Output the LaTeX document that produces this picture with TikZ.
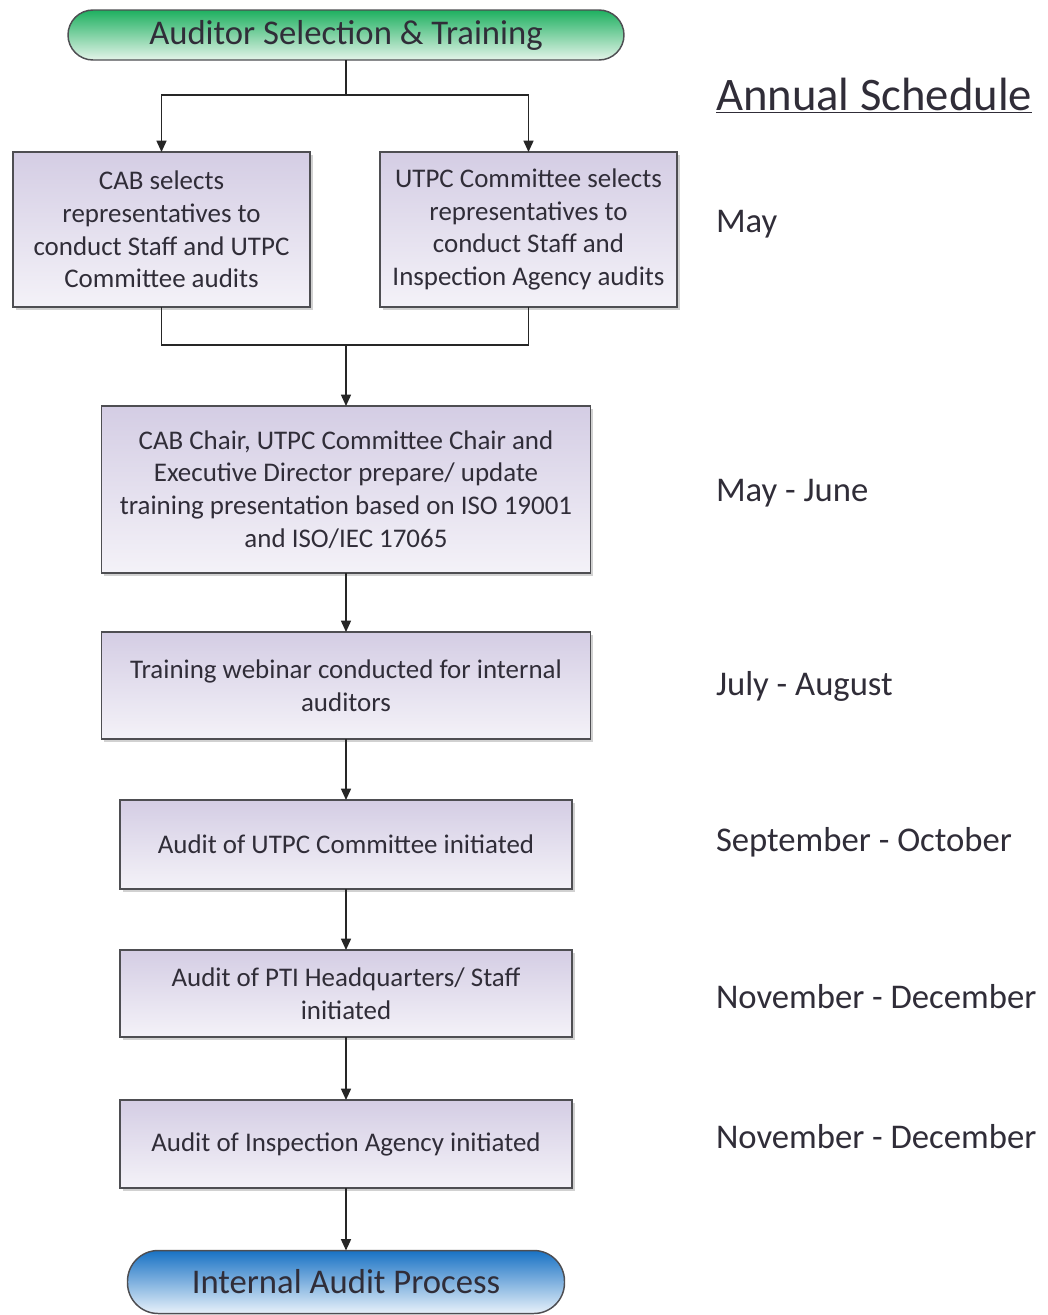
\documentclass[tikz,border=0pt]{standalone}
\usepackage{fontspec}
\setmainfont{Carlito}
\usetikzlibrary{arrows.meta,shadows}
\definecolor{txt}{RGB}{48,45,56}
\definecolor{edge}{RGB}{78,78,82}
\definecolor{boxtop}{RGB}{212,205,228}
\definecolor{boxbot}{RGB}{244,242,248}
\definecolor{grtop}{RGB}{30,176,96}
\definecolor{grbot}{RGB}{228,244,233}
\definecolor{bltop}{RGB}{24,114,196}
\definecolor{blbot}{RGB}{232,241,250}
\begin{document}
\begin{tikzpicture}[x=0.75pt,y=-0.75pt,
  every node/.style={text=txt,inner sep=0pt,outer sep=0pt},
  stepbox/.style={draw=edge,line width=1.1pt,top color=boxtop,bottom color=boxbot,
    align=center,font=\fontsize{20.2}{24.5}\selectfont,
    drop shadow={shadow xshift=2pt,shadow yshift=-2pt,fill=black,opacity=0.18}},
  terminal/.style={draw=edge,line width=1.1pt,rounded corners=#1,
    font=\fontsize{26}{30}\selectfont},
  sched/.style={anchor=base west,font=\fontsize{26}{30}\selectfont},
  link/.style={draw=black!85,line width=1.1pt},
  arr/.style={link,-{Triangle[length=8.5pt,width=7.5pt]}}]
\useasboundingbox (0,0) rectangle (1048,1315);

% start and end terminals
\node[terminal=18.75pt,top color=grtop,bottom color=grbot,
  minimum width=417pt,minimum height=37.5pt] (start) at (346,35)
  {Auditor Selection \& Training};
\node[terminal=23pt,top color=bltop,bottom color=blbot,
  minimum width=327.75pt,minimum height=47.25pt] (finish) at (346,1282)
  {Internal Audit Process};

% process steps
\node[stepbox,minimum width=222.75pt,minimum height=116.25pt] (cab) at (161.5,229.5)
  {CAB selects\\representatives to\\conduct Staff and UTPC\\Committee audits};
\node[stepbox,minimum width=222.75pt,minimum height=116.25pt] (utpc) at (528.5,229.5)
  {UTPC Committee selects\\representatives to\\conduct Staff and\\Inspection Agency audits};
\node[stepbox,minimum width=366.75pt,minimum height=125.25pt] (prep) at (346,489.5)
  {CAB Chair, UTPC Committee Chair and\\Executive Director prepare/ update\\training presentation based on ISO 19001\\and ISO/IEC 17065};
\node[stepbox,minimum width=366.75pt,minimum height=80.25pt] (web) at (346,685.5)
  {Training webinar conducted for internal\\auditors};
\node[stepbox,minimum width=339pt,minimum height=66.75pt] (autpc) at (346,844.5)
  {Audit of UTPC Committee initiated};
\node[stepbox,minimum width=339pt,minimum height=65.25pt] (apti) at (346,993.5)
  {Audit of PTI Headquarters/ Staff\\initiated};
\node[stepbox,minimum width=339pt,minimum height=66pt] (aia) at (346,1144)
  {Audit of Inspection Agency initiated};

% connectors
\coordinate (split) at (346,95);
\coordinate (merge) at (346,345);
\draw[link] (start.south) -- (split);
\draw[arr] (split) -| (cab.north);
\draw[arr] (split) -| (utpc.north);
\draw[link] (cab.south) |- (merge);
\draw[link] (utpc.south) |- (merge);
\draw[arr] (merge) -- (prep.north);
\draw[arr] (prep) -- (web);
\draw[arr] (web) -- (autpc);
\draw[arr] (autpc) -- (apti);
\draw[arr] (apti) -- (aia);
\draw[arr] (aia) -- (finish);

% schedule column
\node[anchor=base west,font=\fontsize{35}{40}\selectfont] (head) at (716,110)
  {\underline{Annual Schedule}};
\node[sched] (m1) at (716,232) {May};
\node[sched] (m2) at (716,501) {May - June};
\node[sched] (m3) at (716,695) {July - August};
\node[sched] (m4) at (716,851) {September - October};
\node[sched] (m5) at (716,1008) {November - December};
\node[sched] (m6) at (716,1148) {November - December};
\end{tikzpicture}
\end{document}
